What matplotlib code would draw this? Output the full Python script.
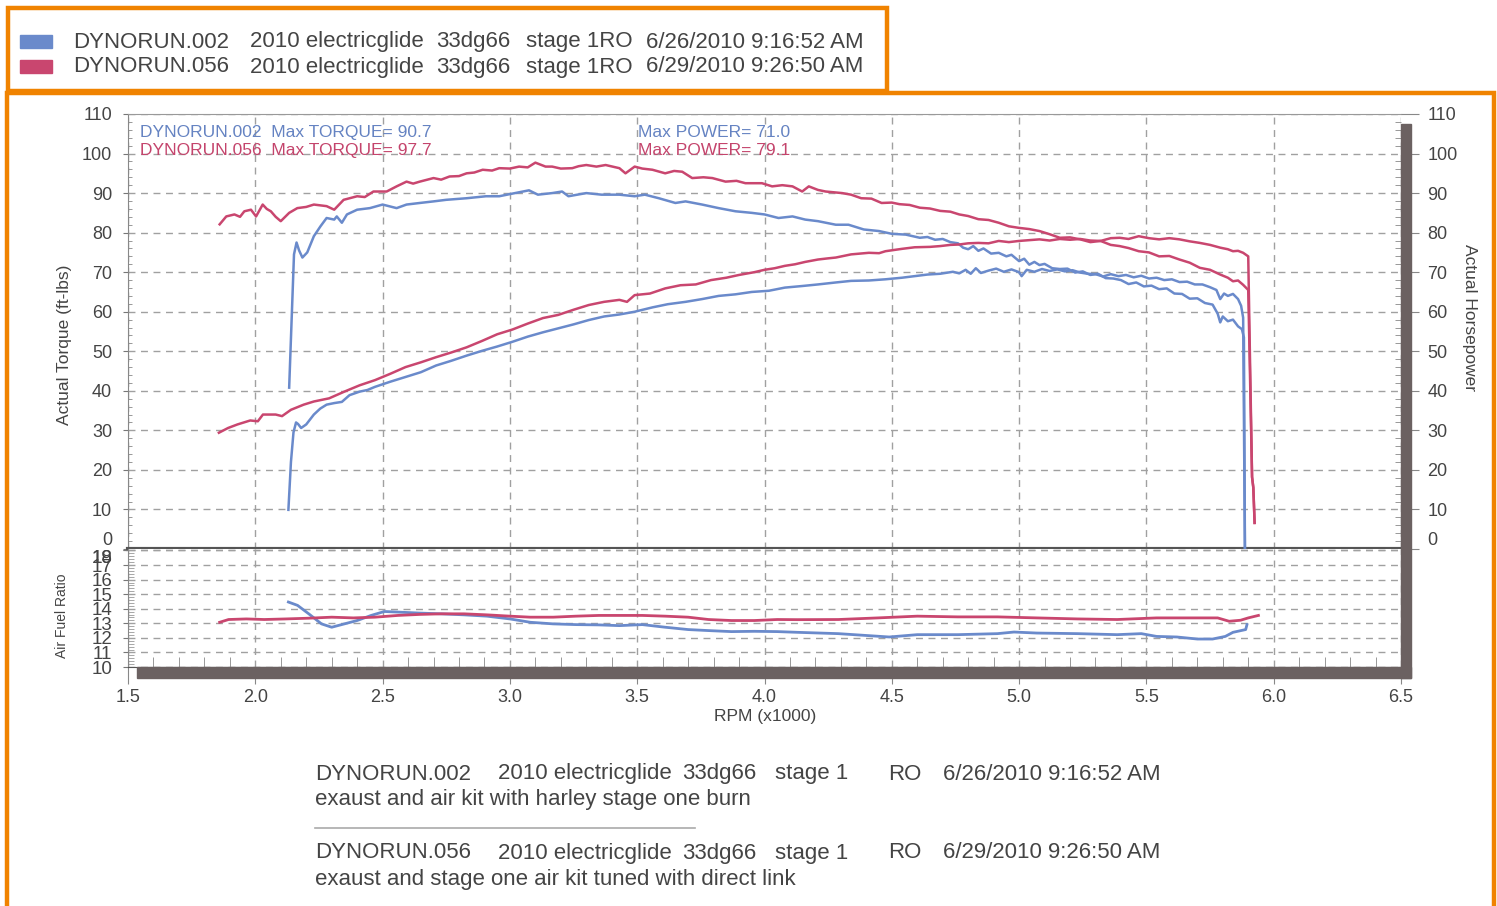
import matplotlib
matplotlib.use("Agg")
import matplotlib.pyplot as plt
from matplotlib.patches import Rectangle
from matplotlib.lines import Line2D
from matplotlib.ticker import MultipleLocator

plt.rcParams['font.family'] = ['Liberation Sans', 'DejaVu Sans']

# ---- data ----
run_names = ["DYNORUN.002", "DYNORUN.056"]
run_dates = ["6/26/2010 9:16:52 AM", "6/29/2010 9:26:50 AM"]
run_notes = ["exaust and air kit with harley stage one burn",
             "exaust and stage one air kit tuned with direct link"]
max_torque = [90.7, 97.7]
max_power = [71.0, 79.1]

# run 002 (blue) torque
blue_tq_rpm = [2.133, 2.152, 2.162, 2.172, 2.185, 2.204, 2.23, 2.256, 2.28, 2.31, 2.32, 2.34, 2.36,
               2.40, 2.45, 2.50, 2.555, 2.594, 2.646, 2.70, 2.75, 2.83, 2.906, 2.958, 3.02, 3.075,
               3.11, 3.166, 3.205, 3.23, 3.30, 3.36, 3.43, 3.49, 3.53, 3.585, 3.65, 3.69, 3.755,
               3.82, 3.886, 3.95, 4.0, 4.055, 4.11, 4.16, 4.21, 4.28, 4.33, 4.39, 4.45, 4.50,
               4.555, 4.61, 4.64, 4.67, 4.70, 4.73, 4.76, 4.78, 4.80, 4.82, 4.84, 4.86, 4.89,
               4.92, 4.95, 4.97, 5.00, 5.02, 5.04, 5.06, 5.08, 5.10, 5.13, 5.16, 5.19, 5.22,
               5.25, 5.28, 5.31, 5.34, 5.37, 5.40, 5.43, 5.46, 5.49, 5.52, 5.55, 5.58, 5.61,
               5.64, 5.67, 5.70, 5.73, 5.76, 5.78, 5.79, 5.80, 5.82, 5.84, 5.86, 5.875, 5.883, 5.887]
blue_tq = [40.8, 74.5, 77.5, 75.5, 73.7, 75.0, 79.1, 81.6, 83.7, 83.3, 84.1, 82.5, 84.6,
           85.8, 86.2, 87.1, 86.2, 87.1, 87.5, 87.9, 88.3, 88.7, 89.2, 89.2, 90.0, 90.7,
           89.6, 90.0, 90.4, 89.2, 90.0, 89.6, 89.6, 89.2, 89.6, 88.7, 87.5, 87.9, 87.1,
           86.2, 85.4, 85.0, 84.6, 83.7, 84.1, 83.3, 82.9, 82.0, 82.0, 80.8, 80.4, 79.7,
           79.5, 78.7, 78.9, 78.2, 78.4, 77.6, 77.3, 76.2, 75.8, 76.6, 75.4, 76.0, 74.7,
           74.9, 74.0, 74.4, 72.8, 73.4, 71.9, 72.6, 71.8, 72.1, 71.0, 70.8, 70.9, 69.9,
           70.2, 69.3, 69.6, 68.5, 68.4, 68.0, 67.0, 67.4, 66.4, 66.6, 65.7, 65.9, 64.6,
           64.5, 63.3, 63.4, 62.2, 61.8, 59.5, 57.3, 58.8, 57.6, 58.0, 56.3, 55.6, 53.5, 0.0]

# run 002 (blue) horsepower
blue_hp_rpm = [2.130, 2.140, 2.150, 2.160, 2.168, 2.180, 2.200, 2.230, 2.255, 2.280, 2.310, 2.340,
               2.370, 2.410, 2.440, 2.470, 2.530, 2.590, 2.650, 2.710, 2.770, 2.830, 2.890, 2.950,
               3.010, 3.070, 3.130, 3.190, 3.250, 3.310, 3.370, 3.430, 3.490, 3.560, 3.620, 3.690,
               3.755, 3.820, 3.886, 3.950, 4.017, 4.080, 4.148, 4.210, 4.280, 4.340, 4.410, 4.475,
               4.540, 4.590, 4.640, 4.690, 4.740, 4.765, 4.790, 4.810, 4.830, 4.850, 4.880, 4.910,
               4.940, 4.970, 5.000, 5.010, 5.030, 5.060, 5.090, 5.120, 5.150, 5.180, 5.210, 5.240,
               5.270, 5.300, 5.330, 5.360, 5.390, 5.420, 5.450, 5.480, 5.510, 5.540, 5.570, 5.600,
               5.630, 5.660, 5.690, 5.720, 5.750, 5.775, 5.790, 5.805, 5.820, 5.840, 5.860, 5.872,
               5.880, 5.887]
blue_hp = [9.9, 22.0, 29.5, 32.0, 31.6, 30.6, 31.5, 34.0, 35.5, 36.5, 36.9, 37.2,
           38.9, 39.8, 40.2, 41.0, 42.3, 43.5, 44.7, 46.4, 47.6, 48.9, 50.1, 51.2,
           52.4, 53.7, 54.8, 55.8, 56.8, 57.9, 58.8, 59.3, 60.0, 61.1, 61.9, 62.5,
           63.2, 64.0, 64.4, 65.0, 65.3, 66.1, 66.5, 66.9, 67.4, 67.8, 67.9, 68.2,
           68.6, 69.0, 69.4, 69.6, 70.1, 69.7, 70.6, 69.6, 71.0, 69.8, 70.4, 70.9,
           70.1, 70.7, 70.0, 69.0, 70.6, 70.1, 70.8, 70.3, 70.7, 70.2, 70.5, 69.9,
           69.6, 69.5, 68.9, 69.5, 69.0, 69.3, 68.7, 69.1, 68.4, 68.6, 68.0, 68.2,
           67.5, 67.6, 66.9, 66.9, 66.2, 65.5, 63.2, 64.6, 64.0, 64.5, 63.2, 61.5,
           58.5, 0.0]

# run 056 (red) torque
red_tq_rpm = [1.860, 1.886, 1.918, 1.940, 1.957, 1.983, 2.003, 2.029, 2.045, 2.061, 2.080, 2.100,
              2.133, 2.165, 2.200, 2.230, 2.280, 2.310, 2.347, 2.400, 2.430, 2.464, 2.516, 2.555,
              2.594, 2.620, 2.646, 2.700, 2.730, 2.763, 2.800, 2.830, 2.860, 2.893, 2.930, 2.958,
              3.000, 3.036, 3.070, 3.100, 3.140, 3.166, 3.200, 3.245, 3.270, 3.300, 3.340, 3.376,
              3.430, 3.454, 3.490, 3.520, 3.560, 3.610, 3.645, 3.677, 3.716, 3.760, 3.795, 3.847,
              3.890, 3.925, 3.990, 4.030, 4.070, 4.110, 4.148, 4.174, 4.210, 4.240, 4.305, 4.340,
              4.380, 4.420, 4.460, 4.500, 4.530, 4.570, 4.610, 4.650, 4.690, 4.730, 4.765, 4.800,
              4.840, 4.880, 4.920, 4.960, 5.000, 5.040, 5.080, 5.120, 5.160, 5.200, 5.240, 5.280,
              5.320, 5.360, 5.395, 5.430, 5.470, 5.510, 5.550, 5.590, 5.630, 5.670, 5.710, 5.750,
              5.790, 5.820, 5.840, 5.860, 5.880, 5.900, 5.905, 5.915, 5.920, 5.925]
red_tq = [82.1, 84.1, 84.6, 84.0, 85.4, 85.8, 84.1, 87.1, 86.0, 85.4, 84.0, 82.9,
          85.0, 86.2, 86.5, 87.1, 86.7, 85.8, 88.3, 89.2, 89.0, 90.4, 90.4, 91.7,
          92.9, 92.4, 92.9, 93.8, 93.4, 94.2, 94.3, 95.0, 95.2, 95.9, 95.7, 96.3,
          96.2, 96.7, 96.5, 97.7, 96.7, 96.7, 96.2, 96.3, 96.8, 97.1, 96.7, 97.1,
          96.3, 95.0, 96.7, 96.2, 95.9, 95.0, 95.6, 95.4, 93.8, 94.0, 93.8, 92.9,
          93.1, 92.5, 92.5, 91.7, 92.0, 91.7, 90.4, 91.7, 90.8, 90.4, 90.0, 89.6,
          88.7, 88.6, 87.5, 87.6, 87.2, 87.0, 86.3, 86.1, 85.5, 85.3, 84.6, 84.2,
          83.4, 83.2, 82.5, 81.6, 81.2, 80.9, 80.4, 79.6, 78.7, 78.8, 78.3, 77.6,
          77.9, 76.9, 76.6, 76.1, 75.3, 75.0, 74.0, 74.1, 73.2, 72.4, 71.1, 70.6,
          69.4, 68.6, 67.7, 67.9, 66.8, 65.5, 50.0, 18.2, 15.5, 6.6]

# run 056 (red) horsepower
red_hp_rpm = [1.857, 1.893, 1.930, 1.980, 2.010, 2.030, 2.080, 2.105, 2.140, 2.190, 2.230, 2.290,
              2.350, 2.410, 2.470, 2.530, 2.590, 2.650, 2.710, 2.770, 2.830, 2.890, 2.950, 3.010,
              3.070, 3.130, 3.190, 3.250, 3.310, 3.370, 3.430, 3.460, 3.490, 3.550, 3.610, 3.670,
              3.730, 3.790, 3.850, 3.900, 3.960, 4.000, 4.040, 4.080, 4.120, 4.160, 4.210, 4.250,
              4.280, 4.340, 4.410, 4.450, 4.475, 4.540, 4.590, 4.650, 4.690, 4.730, 4.765, 4.800,
              4.840, 4.880, 4.920, 4.960, 5.000, 5.040, 5.080, 5.120, 5.160, 5.200, 5.240, 5.280,
              5.320, 5.360, 5.395, 5.430, 5.470, 5.510, 5.550, 5.590, 5.630, 5.670, 5.710, 5.750,
              5.790, 5.820, 5.840, 5.860, 5.880, 5.900, 5.905, 5.915, 5.920, 5.925]
red_hp = [29.4, 30.6, 31.5, 32.5, 32.3, 34.0, 34.0, 33.6, 35.2, 36.5, 37.3, 38.1,
          39.8, 41.4, 42.7, 44.3, 46.0, 47.2, 48.5, 49.7, 51.0, 52.6, 54.3, 55.5,
          57.0, 58.4, 59.2, 60.5, 61.7, 62.5, 63.0, 62.5, 64.2, 64.6, 65.9, 66.7,
          66.9, 68.0, 68.6, 69.3, 70.0, 70.6, 71.0, 71.6, 72.0, 72.6, 73.2, 73.5,
          73.7, 74.5, 74.9, 74.8, 75.3, 75.9, 76.3, 76.4, 76.6, 76.9, 77.0, 77.3,
          77.4, 77.3, 77.9, 77.6, 77.9, 78.1, 78.3, 78.0, 78.4, 78.2, 78.4, 78.0,
          77.9, 78.6, 78.7, 78.4, 79.1, 78.6, 78.3, 78.6, 78.3, 77.8, 77.4, 76.9,
          76.2, 75.8, 75.3, 75.4, 74.9, 74.0, 55.0, 18.2, 15.5, 6.6]

# air fuel ratio
blue_afr_rpm = [2.13, 2.166, 2.21, 2.26, 2.30, 2.35, 2.40, 2.455, 2.507, 2.56, 2.647, 2.73, 2.82,
                2.91, 3.0, 3.08, 3.17, 3.26, 3.35, 3.43, 3.52, 3.61, 3.70, 3.78, 3.87, 3.96,
                4.05, 4.13, 4.29, 4.49, 4.60, 4.76, 4.915, 4.98, 5.07, 5.23, 5.385, 5.48,
                5.54, 5.62, 5.70, 5.76, 5.81, 5.84, 5.89, 5.895]
blue_afr = [14.46, 14.23, 13.65, 12.96, 12.73, 12.96, 13.19, 13.54, 13.81, 13.77, 13.70, 13.65, 13.58,
            13.49, 13.30, 13.07, 12.96, 12.91, 12.89, 12.84, 12.91, 12.73, 12.57, 12.50, 12.43, 12.45,
            12.43, 12.38, 12.29, 12.06, 12.22, 12.22, 12.29, 12.40, 12.33, 12.29, 12.22, 12.29,
            12.10, 12.06, 11.92, 11.92, 12.10, 12.38, 12.57, 12.91]
red_afr_rpm = [1.86, 1.895, 1.965, 2.035, 2.12, 2.21, 2.30, 2.385, 2.47, 2.56, 2.647, 2.73, 2.82,
               2.91, 3.0, 3.08, 3.17, 3.26, 3.35, 3.43, 3.52, 3.61, 3.70, 3.78, 3.87, 3.96,
               4.05, 4.13, 4.29, 4.445, 4.60, 4.76, 4.915, 5.07, 5.23, 5.385, 5.54, 5.70,
               5.78, 5.825, 5.87, 5.90, 5.94]
red_afr = [13.07, 13.26, 13.30, 13.26, 13.30, 13.35, 13.42, 13.37, 13.42, 13.54, 13.61, 13.65, 13.65,
           13.58, 13.49, 13.42, 13.42, 13.49, 13.54, 13.54, 13.54, 13.49, 13.42, 13.26, 13.19, 13.19,
           13.26, 13.25, 13.26, 13.37, 13.49, 13.44, 13.44, 13.37, 13.30, 13.26, 13.37, 13.37,
           13.37, 13.14, 13.21, 13.37, 13.54]

torque_ticks = list(range(0, 111, 10))
afr_ticks = list(range(10, 19))
rpm_ticks = [1.5, 2.0, 2.5, 3.0, 3.5, 4.0, 4.5, 5.0, 5.5, 6.0, 6.5]

# ---- styling ----
BLUE = '#6a8acb'
RED = '#c9466f'
BLUE_TXT = '#6583c2'
RED_TXT = '#c4446c'
TXT = '#444444'
GRID = '#a0a0a0'
ORANGE = '#f08300'
BAR = '#6b6161'

W, H = 1497, 906
fig = plt.figure(figsize=(W / 100, H / 100), dpi=100)
fig.patch.set_facecolor('white')


def fx(px):
    return px / W


def fy(py):
    return 1 - py / H


ax = fig.add_axes([fx(128), fy(549), fx(1401) - fx(128), fy(114) - fy(549)])
afr = fig.add_axes([fx(128), fy(667), fx(1401) - fx(128), fy(549) - fy(667)])

# upper plot: torque and horsepower
ax.plot(blue_hp_rpm, blue_hp, color=BLUE, lw=1.8, zorder=3)
ax.plot(blue_tq_rpm, blue_tq, color=BLUE, lw=1.8, zorder=3)
ax.plot(red_hp_rpm, red_hp, color=RED, lw=1.8, zorder=3)
ax.plot(red_tq_rpm, red_tq, color=RED, lw=1.8, zorder=3)

ax.set_xlim(1.5, 6.5)
ax.set_ylim(0, 110)
ax.set_xticks(rpm_ticks)
ax.set_yticks(torque_ticks, labels=[str(t) for t in torque_ticks])
ax.yaxis.set_minor_locator(MultipleLocator(2))
ax.grid(True, which='major', ls=(0, (5, 4)), color=GRID, lw=1)
ax.tick_params(axis='x', which='both', bottom=False, labelbottom=False)
ax.tick_params(axis='y', which='major', direction='out', length=3.5, pad=8,
               labelsize=13, color='#777', labelcolor=TXT)
ax.tick_params(axis='y', which='minor', direction='in', length=3, color='#888')
for lab in ax.get_yticklabels():
    if lab.get_text() == '0':
        lab.set_va('bottom')
ax.spines['top'].set_color('#999')
ax.spines['left'].set_color('#888')
ax.spines['right'].set_visible(False)
ax.spines['bottom'].set_color('#555')
ax.spines['bottom'].set_linewidth(3)

ax2 = ax.twinx()
ax2.set_ylim(0, 110)
ax2.set_yticks(torque_ticks, labels=[str(t) for t in torque_ticks])
ax2.yaxis.set_minor_locator(MultipleLocator(2))
ax2.tick_params(axis='y', which='major', direction='out', length=13, pad=6,
                labelsize=13, color='#888', labelcolor=TXT)
ax2.tick_params(axis='y', which='minor', direction='in', length=4, color='#888')
for lab in ax2.get_yticklabels():
    if lab.get_text() == '0':
        lab.set_va('bottom')
for s in ax2.spines.values():
    s.set_visible(False)

ax.text(0.0094, 0.958, f"{run_names[0]}  Max TORQUE= {max_torque[0]}", transform=ax.transAxes,
        color=BLUE_TXT, fontsize=12.5, va='center')
ax.text(0.0094, 0.915, f"{run_names[1]}  Max TORQUE= {max_torque[1]}", transform=ax.transAxes,
        color=RED_TXT, fontsize=12.5, va='center')
ax.text(0.4006, 0.958, f"Max POWER= {max_power[0]}", transform=ax.transAxes,
        color=BLUE_TXT, fontsize=12.5, va='center')
ax.text(0.4006, 0.915, f"Max POWER= {max_power[1]}", transform=ax.transAxes,
        color=RED_TXT, fontsize=12.5, va='center')

# lower plot: air fuel ratio
afr.plot(blue_afr_rpm, blue_afr, color=BLUE, lw=2, zorder=3)
afr.plot(red_afr_rpm, red_afr, color=RED, lw=2, zorder=3)
afr.set_xlim(1.5, 6.5)
afr.set_ylim(10, 18.1)
afr.set_yticks(afr_ticks + [18.05], labels=[str(t) for t in afr_ticks] + ['19'])
afr.yaxis.set_minor_locator(MultipleLocator(0.2))
afr.set_xticks(rpm_ticks, labels=[f"{t:.1f}" for t in rpm_ticks])
afr.xaxis.set_minor_locator(MultipleLocator(0.1))
afr.grid(True, which='major', ls=(0, (5, 4)), color=GRID, lw=1)
afr.tick_params(axis='y', which='major', direction='out', length=3.5, pad=8,
                labelsize=13.5, color='#777', labelcolor=TXT)
afr.tick_params(axis='y', which='minor', direction='in', length=4, color='#999')
afr.tick_params(axis='x', which='major', direction='out', length=12, pad=4,
                labelsize=13, color='#888', labelcolor=TXT)
afr.tick_params(axis='x', which='minor', direction='in', length=7, color='#888')
for lab in afr.get_yticklabels():
    if lab.get_text() in ('18', '19'):
        lab.set_va('top')
afr.spines['top'].set_visible(False)
afr.spines['right'].set_visible(False)
afr.spines['left'].set_color('#888')
afr.spines['bottom'].set_color('#555')

# shadow bars on the right and bottom of the chart frame
fig.add_artist(Rectangle((fx(1401), fy(678)), fx(1411) - fx(1401), fy(124) - fy(678),
                         transform=fig.transFigure, color=BAR, zorder=5))
fig.add_artist(Rectangle((fx(137), fy(678)), fx(1411) - fx(137), fy(667) - fy(678),
                         transform=fig.transFigure, color=BAR, zorder=5))

# axis titles
fig.text(fx(65), fy(345), "Actual Torque (ft-lbs)", rotation=90, ha='center', va='center',
         fontsize=12.5, color=TXT)
fig.text(fx(1470), fy(318), "Actual Horsepower", rotation=270, ha='center', va='center',
         fontsize=12.5, color=TXT)
fig.text(fx(62), fy(616), "Air Fuel Ratio", rotation=90, ha='center', va='center',
         fontsize=10, color=TXT)
fig.text(fx(765), fy(716), "RPM (x1000)", ha='center', va='center', fontsize=12.5, color=TXT)

# legend box at the top
legend_cols = [73, 250, 436, 526, 646]
for i, (name, date, col) in enumerate(zip(run_names, run_dates, [BLUE, RED])):
    yc = 42 + 25 * i
    fig.add_artist(Rectangle((fx(20), fy(yc + 6)), fx(52) - fx(20), fy(yc - 7) - fy(yc + 6),
                             transform=fig.transFigure, color=col))
    parts = [name, "2010 electricglide", "33dg66", "stage 1RO", date]
    for px, s in zip(legend_cols, parts):
        fig.text(fx(px), fy(yc), s, ha='left', va='center', fontsize=16, color=TXT)

# notes under the chart
note_cols = [315, 498, 682, 775, 888, 943]
for i, (name, date, note) in enumerate(zip(run_names, run_dates, run_notes)):
    y1 = 774 + 79 * i
    parts = [name, "2010 electricglide", "33dg66", "stage 1", "RO", date]
    for px, s in zip(note_cols, parts):
        fig.text(fx(px), fy(y1), s, ha='left', va='center', fontsize=16, color=TXT)
    fig.text(fx(315), fy(y1 + 26), note, ha='left', va='center', fontsize=16, color=TXT)
    fig.add_artist(Line2D([fx(315), fx(695)], [fy(y1 + 54), fy(y1 + 54)],
                          transform=fig.transFigure, color='#aaaaaa', lw=1.2))

# orange frames
fig.add_artist(Rectangle((fx(8), fy(91)), fx(887) - fx(8), fy(8) - fy(91),
                         transform=fig.transFigure, fill=False, ec=ORANGE, lw=3.2, zorder=6))
fig.add_artist(Rectangle((fx(7), fy(915)), fx(1494) - fx(7), fy(93) - fy(915),
                         transform=fig.transFigure, fill=False, ec=ORANGE, lw=3.2, zorder=6))

fig.savefig("out.png", dpi=100)
